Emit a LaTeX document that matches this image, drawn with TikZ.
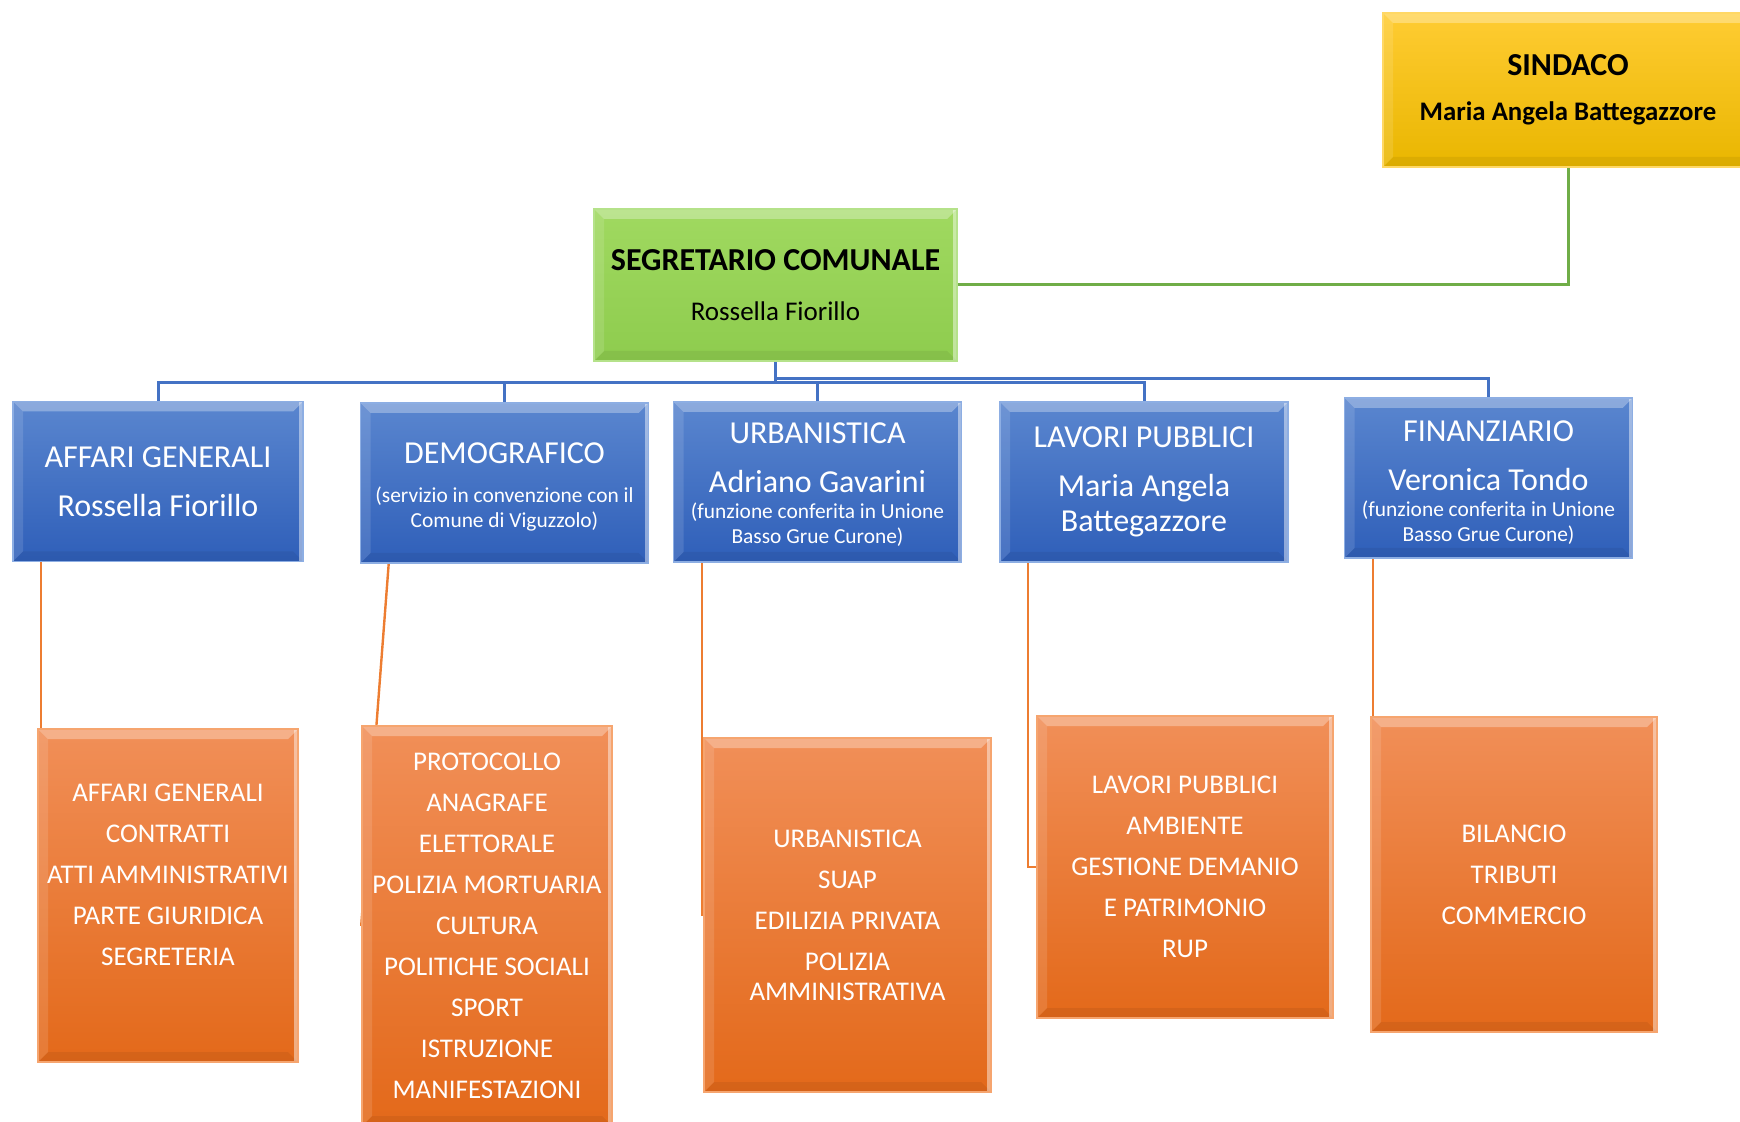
\documentclass[tikz,border=0pt]{standalone}
\usepackage{fontspec}
\setmainfont{Carlito}
\usetikzlibrary{backgrounds}
\definecolor{bluetop}{HTML}{5A86CF}
\definecolor{bluebot}{HTML}{2F5FB9}
\definecolor{blueedge}{HTML}{8DAEE3}
\definecolor{bluelink}{HTML}{4472C4}
\definecolor{orangetop}{HTML}{F18F58}
\definecolor{orangebot}{HTML}{E3691A}
\definecolor{orangeedge}{HTML}{F6A56F}
\definecolor{orangelink}{HTML}{ED7D31}
\definecolor{greentop}{HTML}{A0D960}
\definecolor{greenbot}{HTML}{8ECC4E}
\definecolor{greenedge}{HTML}{B5E28A}
\definecolor{greenlink}{HTML}{70AD47}
\definecolor{yellowtop}{HTML}{FFCC33}
\definecolor{yellowbot}{HTML}{E9B600}
\definecolor{yellowedge}{HTML}{FFD866}
\newcommand{\notefont}{\fontsize{10.7}{12.2}\selectfont}

\begin{document}
\begin{tikzpicture}[x=0.5pt, y=-0.5pt,
    bevel/.style={path picture={
      \fill[white, opacity=.3] (path picture bounding box.north west) -- (path picture bounding box.north east)
        -- ([shift={(-5pt,-5pt)}]path picture bounding box.north east) -- ([shift={(5pt,-5pt)}]path picture bounding box.north west) -- cycle;
      \fill[white, opacity=.12] (path picture bounding box.north west) -- ([shift={(5pt,-5pt)}]path picture bounding box.north west)
        -- ([shift={(5pt,5pt)}]path picture bounding box.south west) -- (path picture bounding box.south west) -- cycle;
      \fill[black, opacity=.06] (path picture bounding box.south west) -- ([shift={(5pt,5pt)}]path picture bounding box.south west)
        -- ([shift={(-5pt,5pt)}]path picture bounding box.south east) -- (path picture bounding box.south east) -- cycle;
      \fill[white, opacity=.45] ([xshift=-2pt]path picture bounding box.north east) rectangle (path picture bounding box.south east);
    }},
    headbox/.style={inner sep=0pt, align=center, line width=0.8pt, bevel},
    unitbox/.style={inner sep=0pt, minimum width=144pt, minimum height=80pt, top color=bluetop, bottom color=bluebot,
      draw=blueedge, line width=0.8pt, text=white, align=center, font=\fontsize{16}{24.5}\selectfont, bevel},
    listbox/.style={inner sep=0pt, top color=orangetop, bottom color=orangebot, draw=orangeedge, line width=0.8pt,
      text=white, align=center, font=\fontsize{13.5}{20.5}\selectfont, bevel},
    link/.style={line width=1.5pt}]
\useasboundingbox (0,0) rectangle (1740,1122);

\node[headbox, top color=yellowtop, bottom color=yellowbot, draw=yellowedge, minimum width=185pt, minimum height=77pt,
  font=\bfseries\fontsize{16}{22.5}\selectfont] at (1568,90) (sindaco) {SINDACO\\ {\fontsize{13.4}{22.5}\selectfont Maria Angela Battegazzore}};
\node[headbox, top color=greentop, bottom color=greenbot, draw=greenedge, minimum width=181.5pt, minimum height=76pt,
  font=\fontsize{16}{25}\selectfont] at (775.5,285) (segretario) {\textbf{SEGRETARIO COMUNALE}\\ {\fontsize{13.5}{25}\selectfont Rossella Fiorillo}};

\node[unitbox, minimum width=145pt] at (158,481.5) (affari) {AFFARI GENERALI\\ Rossella Fiorillo};
\node[unitbox] at (504.5,483) (demografico) {\rule{0pt}{16pt}DEMOGRAFICO\\[-4.8pt] {\notefont\begin{tabular}[t]{@{}c@{}}(servizio in convenzione con il\\ Comune di Viguzzolo)\end{tabular}}};
\node[unitbox] at (817.5,482) (urbanistica) {\rule{0pt}{15pt}URBANISTICA\\ Adriano Gavarini\\[-11.5pt] {\notefont\begin{tabular}[t]{@{}c@{}}(funzione conferita in Unione\\ Basso Grue Curone)\end{tabular}}};
\node[unitbox] at (1144,482) (lavori) {LAVORI PUBBLICI\\ Maria Angela\\[-7pt] Battegazzore};
\node[unitbox] at (1488.5,478) (finanziario) {\rule{0pt}{17pt}FINANZIARIO\\ Veronica Tondo\\[-11.5pt] {\notefont\begin{tabular}[t]{@{}c@{}}(funzione conferita in Unione\\ Basso Grue Curone)\end{tabular}}};

\node[listbox, minimum width=130pt, minimum height=166.5pt] at (168,895.5) (affarilist) {AFFARI GENERALI\\ CONTRATTI\\ ATTI AMMINISTRATIVI\\ PARTE GIURIDICA\\ SEGRETERIA\\ ~};
\node[listbox, minimum width=125pt, minimum height=200pt] at (487,926) (demograficolist) {PROTOCOLLO\\ ANAGRAFE\\ ELETTORALE\\ POLIZIA MORTUARIA\\ CULTURA\\ POLITICHE SOCIALI\\ SPORT\\ ISTRUZIONE\\ MANIFESTAZIONI};
\node[listbox, minimum width=143.5pt, minimum height=177pt] at (847.5,915) (urbanisticalist) {URBANISTICA\\ SUAP\\ EDILIZIA PRIVATA\\ POLIZIA\\[-5.5pt] AMMINISTRATIVA};
\node[listbox, minimum width=148pt, minimum height=151pt] at (1185,867) (lavorilist) {LAVORI PUBBLICI\\ AMBIENTE\\ GESTIONE DEMANIO\\ E PATRIMONIO\\ RUP};
\node[listbox, minimum width=143pt, minimum height=157.5pt] at (1514,874.5) (finanziariolist) {BILANCIO\\ TRIBUTI\\ COMMERCIO};

\begin{scope}[on background layer]
\draw[link, greenlink] (segretario.east) -| (sindaco.south);
\foreach \unit/\drop in {affari/21, demografico/21, urbanistica/21, lavori/21, finanziario/17}
  \draw[link, bluelink] (segretario.south) -- ++(0,\drop) -| (\unit.north);
\foreach \unit/\list in {affari/affarilist, urbanistica/urbanisticalist, lavori/lavorilist, finanziario/finanziariolist}
  \draw[link, orangelink, line width=1.2pt] ([xshift=14.5pt]\unit.south west) |- (\list.west);
\draw[link, orangelink, line width=1.2pt] ([xshift=14.5pt]demografico.south west) -- (demograficolist.west);
\end{scope}
\end{tikzpicture}
\end{document}
